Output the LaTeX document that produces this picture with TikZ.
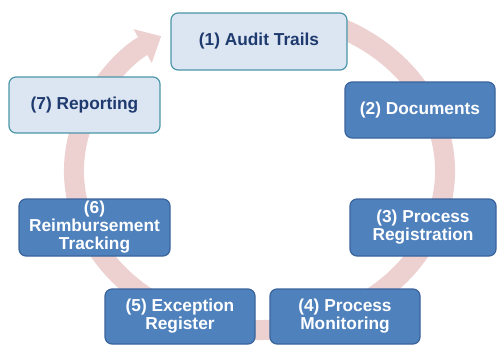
\documentclass[tikz,border=0pt]{standalone}
\usepackage{fontspec}
\setmainfont{Liberation Sans}
\usetikzlibrary{arrows.meta}
\definecolor{ringc}{RGB}{237,208,208}
\definecolor{lightfill}{RGB}{220,230,242}
\definecolor{lightdraw}{RGB}{75,150,168}
\definecolor{lighttext}{RGB}{30,58,110}
\definecolor{darkfill}{RGB}{79,129,189}
\definecolor{darkdraw}{RGB}{58,100,155}
\tikzset{
  box/.style={rectangle, rounded corners=7pt, line width=1.2pt, align=center,
    font=\fontsize{17.3}{18}\selectfont\bfseries, inner sep=0pt},
  lightbox/.style={box, fill=lightfill, draw=lightdraw, text=lighttext},
  darkbox/.style={box, fill=darkfill, draw=darkdraw, text=white},
  ring/.style={draw=ringc, line width=20pt, -{Triangle[width=37pt,length=21pt]}}
}
\begin{document}
\begin{tikzpicture}[x=1pt,y=-1pt]
\useasboundingbox (0,0) rectangle (497,345);
\coordinate (c) at (259.5,171);
\draw[ring] (c) ++(68:185.5pt and 159pt) arc[start angle=68, end angle=-238, x radius=185.5pt, y radius=159pt];
\node[lightbox, minimum width=176pt, minimum height=57pt] (n1) at (259,41.5) {(1) Audit Trails};
\node[darkbox, minimum width=150pt, minimum height=56pt] (n2) at (420,110) {(2) Documents};
\node[darkbox, minimum width=146pt, minimum height=57pt] (n3) at (423,227.5) {(3) Process\\Registration};
\node[darkbox, minimum width=150pt, minimum height=55pt] (n4) at (345,316.5) {(4) Process\\Monitoring};
\node[darkbox, minimum width=150pt, minimum height=55pt] (n5) at (180,316.5) {(5) Exception\\Register};
\node[darkbox, minimum width=151pt, minimum height=57pt] (n6) at (94.5,227.5) {(6)\\Reimbursement\\Tracking};
\node[lightbox, minimum width=151pt, minimum height=56pt] (n7) at (84.5,105) {(7) Reporting};
\end{tikzpicture}
\end{document}
